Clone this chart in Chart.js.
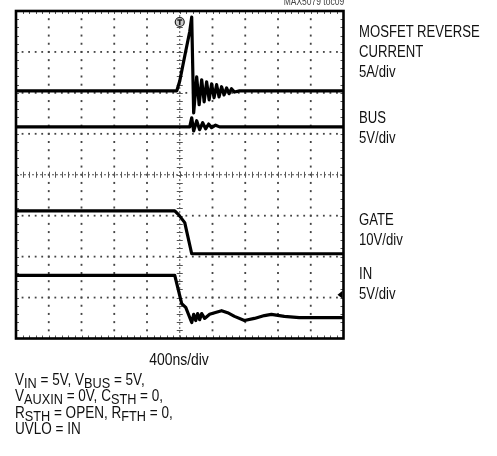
<!DOCTYPE html>
<html>
<head>
<meta charset="utf-8">
<script src="https://cdn.jsdelivr.net/npm/chart.js@4/dist/chart.umd.min.js"></script>
<style>
body { margin: 0; background: #fff; }
#wrap { position: relative; width: 497px; height: 456px; overflow: hidden;
        font-family: 'Liberation Sans', Arial, sans-serif; color: #111; }
#scope { position: absolute; left: 0; top: 0; }
/* narrow look: Arial metrics squeezed like Arial Narrow */
.lbl { position: absolute; font-size: 16px; line-height: 20px; white-space: nowrap;
       transform: scaleX(0.82); transform-origin: 0 0; }
.cond { position: absolute; left: 15px; top: 370.5px; font-size: 16.5px; line-height: 16.5px; white-space: nowrap;
        transform: scaleX(0.82); transform-origin: 0 0; }
.cond sub { font-size: 15.5px; vertical-align: -3px; line-height: 0; }
#code { position: absolute; right: 153px; top: -4px; font-size: 10px; line-height: 12px; color: #444; white-space: nowrap;
        transform: scaleX(0.85); transform-origin: 100% 0; }
</style>
</head>
<body>
<div id="wrap">
  <canvas id="scope" width="497" height="456"></canvas>
  <div id="code">MAX5079 toc09</div>
  <div class="lbl" style="left:359px;top:21.5px">MOSFET REVERSE<br>CURRENT<br>5A/div</div>
  <div class="lbl" style="left:359px;top:107.5px">BUS<br>5V/div</div>
  <div class="lbl" style="left:359px;top:209.5px">GATE<br>10V/div</div>
  <div class="lbl" style="left:359px;top:263.5px">IN<br>5V/div</div>
  <div class="lbl" style="left:100px;width:158px;text-align:center;top:350px;font-size:17px;transform-origin:50% 0">400ns/div</div>
  <div class="cond">
    V<sub>IN</sub> = 5V, V<sub>BUS</sub> = 5V,<br>
    V<sub>AUXIN</sub> = 0V, C<sub>STH</sub> = 0,<br>
    R<sub>STH</sub> = OPEN, R<sub>FTH</sub> = 0,<br>
    UVLO = IN
  </div>
</div>
<script>
// time base: 400ns/div, 10 divisions, trigger at centre
var nsPerDiv = 400;
var xDivs = 10;
var yDivs = 8;

// traces, vertical position in divisions from screen centre
var currentTime = [-2000, -36, 0, 61, 122, 146, 170, 207, 237, 268, 298, 328, 359, 389, 419, 450, 480, 511, 541, 572, 602, 632, 669, 730, 2000];
var currentDiv  = [2.05, 2.05, 2.29, 2.9, 3.5, 3.85, 1.51, 2.39, 1.71, 2.32, 1.78, 2.27, 1.83, 2.22, 1.88, 2.2, 1.9, 2.15, 1.95, 2.12, 1.98, 2.1, 2.02, 2.05, 2.05];

var busTime = [-2000, 122, 146, 170, 207, 243, 280, 316, 353, 389, 438, 486, 2000];
var busDiv  = [1.17, 1.17, 1.39, 1.07, 1.32, 1.10, 1.27, 1.12, 1.24, 1.15, 1.21, 1.17, 1.17];

var gateTime = [-2000, -61, -12, 61, 146, 2000];
var gateDiv  = [-0.88, -0.88, -0.98, -1.17, -1.93, -1.93];

var inTime = [-2000, -61, 24, 73, 146, 170, 195, 219, 243, 268, 304, 365, 426, 511, 584, 669, 790, 912, 1034, 1119, 1277, 1459, 2000];
var inDiv  = [-2.46, -2.46, -3.15, -3.24, -3.61, -3.41, -3.56, -3.39, -3.54, -3.39, -3.51, -3.41, -3.37, -3.32, -3.37, -3.46, -3.56, -3.51, -3.44, -3.41, -3.46, -3.49, -3.49];

// trigger level marker (divisions)
var trigLevel = -2.93;

var xMin = -nsPerDiv * xDivs / 2, xMax = nsPerDiv * xDivs / 2;
var yMin = -yDivs / 2, yMax = yDivs / 2;

function pts(t, v) {
    return t.map(function (tt, i) { return { x: tt, y: v[i] }; });
}

function trace(t, v) {
    return {
        data: pts(t, v),
        borderColor: '#000',
        borderWidth: 3.2,
        pointRadius: 0,
        tension: 0,
        borderJoinStyle: 'round',
        borderCapStyle: 'round'
    };
}

var scopeGrid = {
    id: 'scopeGrid',
    beforeDatasetsDraw: function (chart) {
        var ctx = chart.ctx, a = chart.chartArea, x = chart.scales.x, y = chart.scales.y;
        ctx.save();
        ctx.fillStyle = '#444';
        var i, j, px, py;
        // dotted division lines
        for (i = 1; i < xDivs; i++) {
            if (i === xDivs / 2) continue;
            px = x.getPixelForValue(xMin + i * nsPerDiv);
            for (j = 1; j < yDivs * 5; j++) {
                py = y.getPixelForValue(yMin + j / 5);
                ctx.fillRect(px - 0.9, py - 1, 1.8, 2);
            }
        }
        for (j = 1; j < yDivs; j++) {
            if (j === yDivs / 2) continue;
            py = y.getPixelForValue(yMin + j);
            for (i = 1; i < xDivs * 5; i++) {
                px = x.getPixelForValue(xMin + i * nsPerDiv / 5);
                ctx.fillRect(px - 0.9, py - 0.9, 1.8, 1.8);
            }
        }
        // centre cross with minor ticks
        var cx = x.getPixelForValue(0), cy = y.getPixelForValue(0);
        ctx.strokeStyle = '#555';
        ctx.lineWidth = 1;
        ctx.setLineDash([2, 2]);
        ctx.beginPath();
        ctx.moveTo(cx, a.top); ctx.lineTo(cx, a.bottom);
        ctx.moveTo(a.left, cy); ctx.lineTo(a.right, cy);
        ctx.stroke();
        ctx.setLineDash([]);
        ctx.beginPath();
        for (j = 1; j < yDivs * 5; j++) {
            py = Math.round(y.getPixelForValue(yMin + j / 5)) + 0.5;
            ctx.moveTo(cx - 3, py); ctx.lineTo(cx + 3, py);
            // ticks along left and right border
            ctx.moveTo(a.left, py); ctx.lineTo(a.left + 3, py);
            ctx.moveTo(a.right - 3, py); ctx.lineTo(a.right, py);
        }
        for (i = 1; i < xDivs * 5; i++) {
            px = Math.round(x.getPixelForValue(xMin + i * nsPerDiv / 5)) + 0.5;
            ctx.moveTo(px, cy - 3); ctx.lineTo(px, cy + 3);
            ctx.moveTo(px, a.top); ctx.lineTo(px, a.top + 3);
            ctx.moveTo(px, a.bottom - 3); ctx.lineTo(px, a.bottom);
        }
        ctx.stroke();
        ctx.restore();
    },
    afterDatasetsDraw: function (chart) {
        var ctx = chart.ctx, a = chart.chartArea, x = chart.scales.x, y = chart.scales.y;
        ctx.save();
        // frame
        ctx.strokeStyle = '#000';
        ctx.lineWidth = 2.6;
        ctx.strokeRect(a.left, a.top, a.right - a.left, a.bottom - a.top);
        // trigger position marker
        var tx = x.getPixelForValue(0), ty = a.top + 11;
        ctx.fillStyle = '#ccc';
        ctx.strokeStyle = '#222';
        ctx.lineWidth = 1.2;
        ctx.beginPath();
        ctx.arc(tx, ty, 4.5, 0, Math.PI * 2);
        ctx.fill();
        ctx.stroke();
        ctx.lineWidth = 1.6;
        ctx.beginPath();
        ctx.moveTo(tx - 2.5, ty - 2); ctx.lineTo(tx + 2.5, ty - 2);
        ctx.moveTo(tx, ty - 2); ctx.lineTo(tx, ty + 3);
        ctx.stroke();
        // trigger level arrow
        var ly = y.getPixelForValue(trigLevel);
        ctx.fillStyle = '#000';
        ctx.beginPath();
        ctx.moveTo(a.right - 6, ly);
        ctx.lineTo(a.right - 1, ly - 4);
        ctx.lineTo(a.right - 1, ly + 4);
        ctx.closePath();
        ctx.fill();
        ctx.restore();
    }
};

new Chart(document.getElementById('scope').getContext('2d'), {
    type: 'line',
    data: {
        datasets: [
            trace(currentTime, currentDiv),
            trace(busTime, busDiv),
            trace(gateTime, gateDiv),
            trace(inTime, inDiv)
        ]
    },
    options: {
        responsive: false,
        animation: false,
        layout: { padding: { left: 16, top: 11, right: 153.5, bottom: 117.5 } },
        plugins: { legend: { display: false }, tooltip: { enabled: false } },
        scales: {
            x: { type: 'linear', min: xMin, max: xMax, display: false },
            y: { type: 'linear', min: yMin, max: yMax, display: false }
        }
    },
    plugins: [scopeGrid]
});
</script>
</body>
</html>
